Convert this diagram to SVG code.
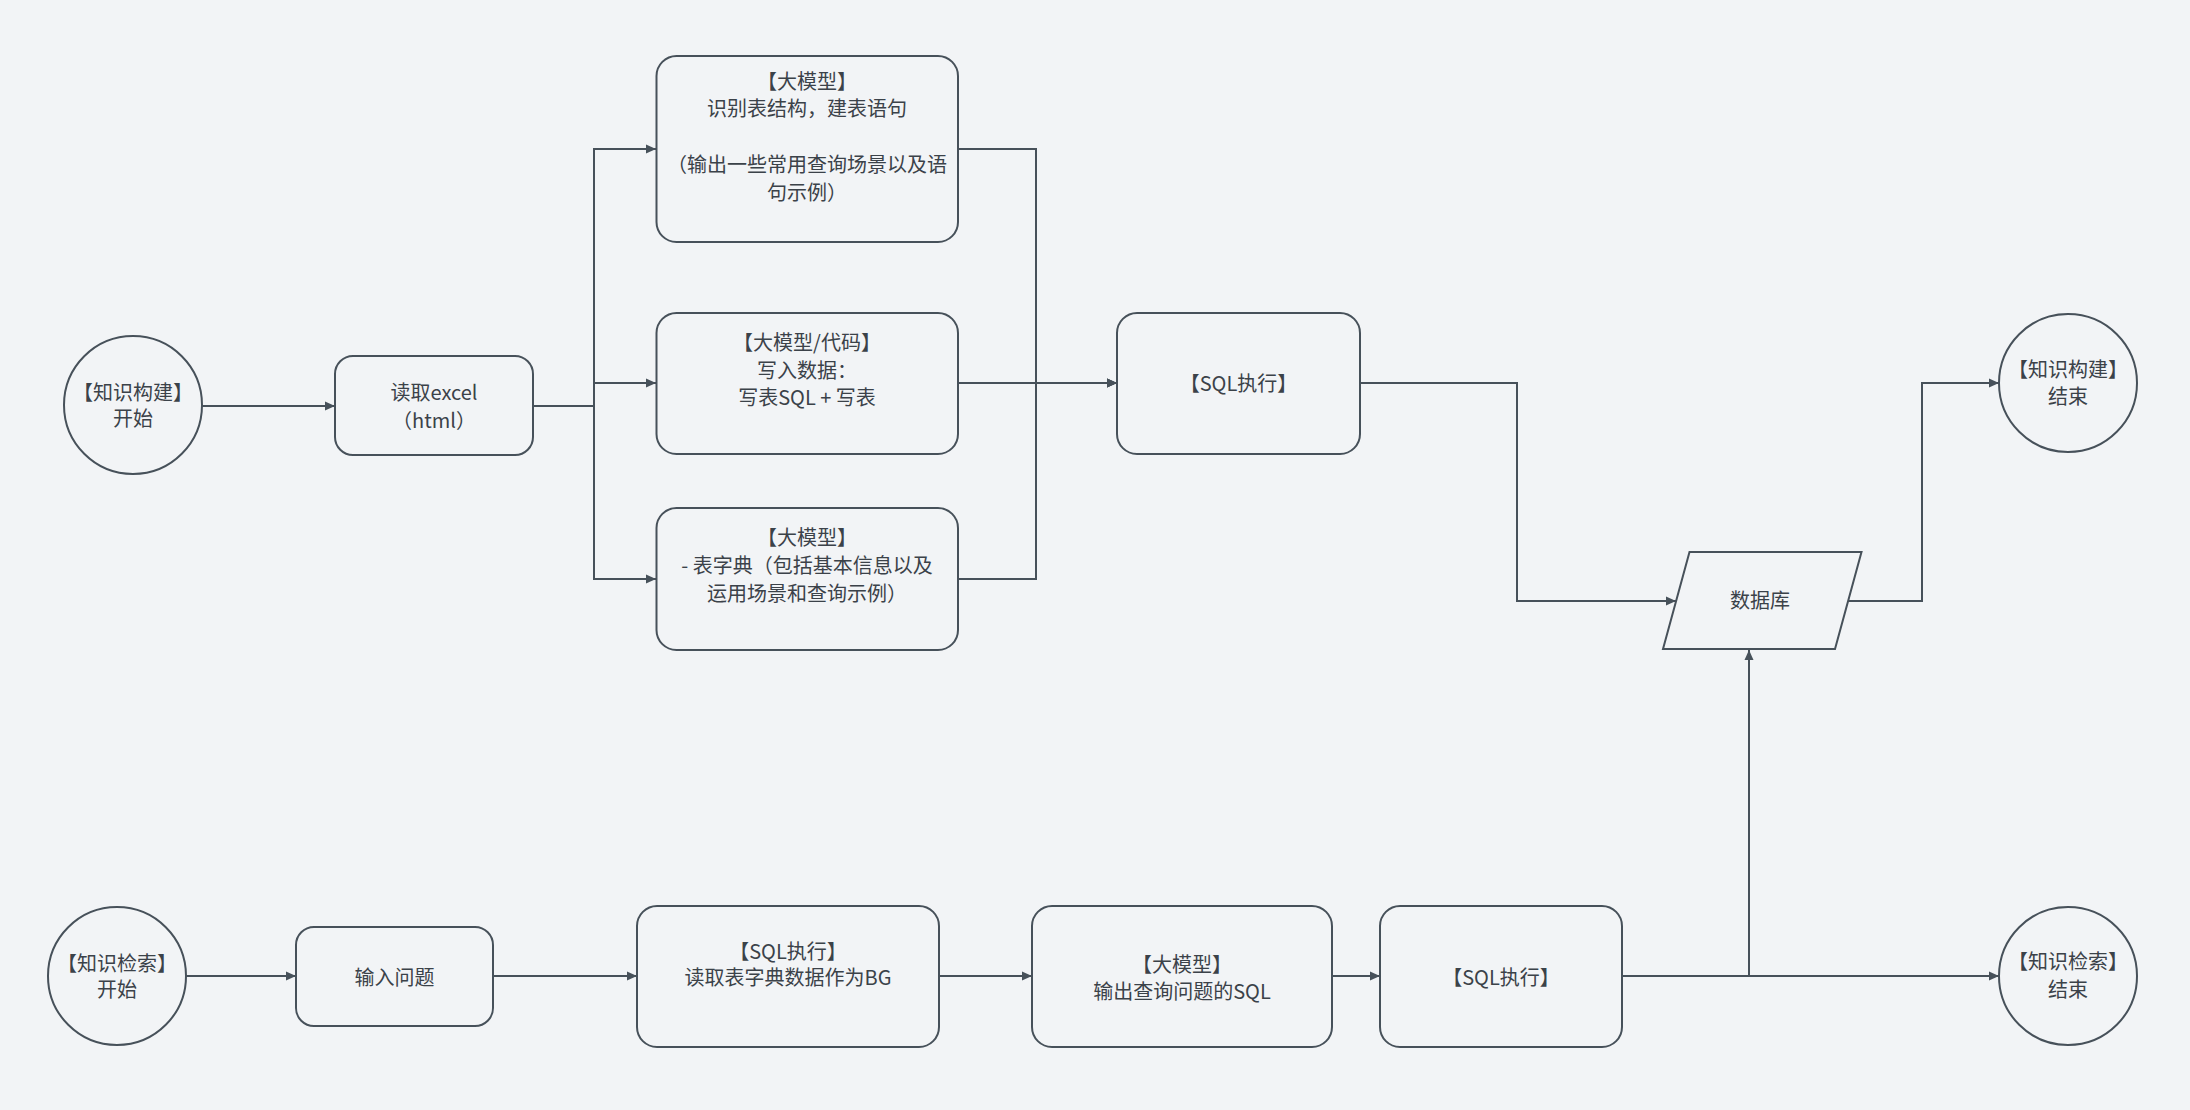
<svg xmlns="http://www.w3.org/2000/svg" width="2190" height="1110" viewBox="0 0 2190 1110">
<defs>
<style>
.n{fill:#f2f4f6;stroke:#47515a;stroke-width:2}
.t{font-family:"Noto Sans CJK SC","Noto Sans",sans-serif;font-size:20px;fill:#3b4249;text-anchor:middle;dominant-baseline:central}
.c{fill:none;stroke:#47515a;stroke-width:2}
</style>
<marker id="a" viewBox="0 0 10 10" refX="10" refY="5" markerWidth="10" markerHeight="10" markerUnits="userSpaceOnUse" orient="auto">
<path d="M0,0.5 L10,5 L0,9.5 Z" fill="#47515a"/>
</marker>
</defs>
<rect width="2190" height="1110" fill="#f2f4f6"/>
<g id="connectors">
<path class="c" d="M202,406 H335" marker-end="url(#a)"/>
<path class="c" d="M533,406 H594 V149 H656" marker-end="url(#a)"/>
<path class="c" d="M533,406 H594 V383 H656" marker-end="url(#a)"/>
<path class="c" d="M533,406 H594 V579 H656" marker-end="url(#a)"/>
<path class="c" d="M958,149 H1036 V383 H1117" marker-end="url(#a)"/>
<path class="c" d="M958,383 H1117" marker-end="url(#a)"/>
<path class="c" d="M958,579 H1036 V383 H1117" marker-end="url(#a)"/>
<path class="c" d="M1360,383 H1517 V601 H1676" marker-end="url(#a)"/>
<path class="c" d="M1848,601 H1922 V383 H1999" marker-end="url(#a)"/>
<path class="c" d="M185,976 H296" marker-end="url(#a)"/>
<path class="c" d="M493,976 H637" marker-end="url(#a)"/>
<path class="c" d="M939,976 H1032" marker-end="url(#a)"/>
<path class="c" d="M1332,976 H1380" marker-end="url(#a)"/>
<path class="c" d="M1622,976 H1999" marker-end="url(#a)"/>
<path class="c" d="M1622,976 H1749 V650" marker-end="url(#a)"/>
</g>
<g id="kb-start">
<circle class="n" cx="133" cy="405" r="69"/>
<text class="t" x="133" y="391">【知识构建】</text>
<text class="t" x="133" y="417">开始</text>
</g>
<g id="read-excel">
<rect class="n" x="335" y="356" width="198" height="99" rx="18"/>
<text class="t" x="434" y="391">读取excel</text>
<text class="t" x="434" y="419">（html）</text>
</g>
<g id="llm-structure">
<rect class="n" x="656.5" y="56" width="301.5" height="186" rx="20"/>
<text class="t" x="807" y="80">【大模型】</text>
<text class="t" x="807" y="107">识别表结构，建表语句</text>
<text class="t" x="807" y="163">（输出一些常用查询场景以及语</text>
<text class="t" x="807" y="191">句示例）</text>
</g>
<g id="llm-write">
<rect class="n" x="656.5" y="313" width="301.5" height="141" rx="20"/>
<text class="t" x="807" y="341">【大模型/代码】</text>
<text class="t" x="807" y="369">写入数据：</text>
<text class="t" x="807" y="396">写表SQL + 写表</text>
</g>
<g id="llm-dict">
<rect class="n" x="656.5" y="508" width="301.5" height="142" rx="20"/>
<text class="t" x="807" y="536">【大模型】</text>
<text class="t" x="807" y="564">- 表字典（包括基本信息以及</text>
<text class="t" x="807" y="592">运用场景和查询示例）</text>
</g>
<g id="sql-exec-1">
<rect class="n" x="1117" y="313" width="243" height="141" rx="20"/>
<text class="t" x="1238.5" y="382">【SQL执行】</text>
</g>
<g id="database">
<polygon class="n" points="1689.5,552 1861.5,552 1835,649 1663,649"/>
<text class="t" x="1760" y="599">数据库</text>
</g>
<g id="kb-end">
<circle class="n" cx="2068" cy="383" r="69"/>
<text class="t" x="2068" y="368">【知识构建】</text>
<text class="t" x="2068" y="395">结束</text>
</g>
<g id="qa-start">
<circle class="n" cx="117" cy="976" r="69"/>
<text class="t" x="117" y="962">【知识检索】</text>
<text class="t" x="117" y="988">开始</text>
</g>
<g id="input-question">
<rect class="n" x="296" y="927" width="197" height="99" rx="18"/>
<text class="t" x="394.5" y="976">输入问题</text>
</g>
<g id="sql-read-dict">
<rect class="n" x="637" y="906" width="302" height="141" rx="20"/>
<text class="t" x="788" y="950">【SQL执行】</text>
<text class="t" x="788" y="976">读取表字典数据作为BG</text>
</g>
<g id="llm-sql">
<rect class="n" x="1032" y="906" width="300" height="141" rx="20"/>
<text class="t" x="1182" y="963">【大模型】</text>
<text class="t" x="1182" y="990">输出查询问题的SQL</text>
</g>
<g id="sql-exec-2">
<rect class="n" x="1380" y="906" width="242" height="141" rx="20"/>
<text class="t" x="1501" y="976">【SQL执行】</text>
</g>
<g id="qa-end">
<circle class="n" cx="2068" cy="976" r="69"/>
<text class="t" x="2068" y="960">【知识检索】</text>
<text class="t" x="2068" y="988">结束</text>
</g>
</svg>
